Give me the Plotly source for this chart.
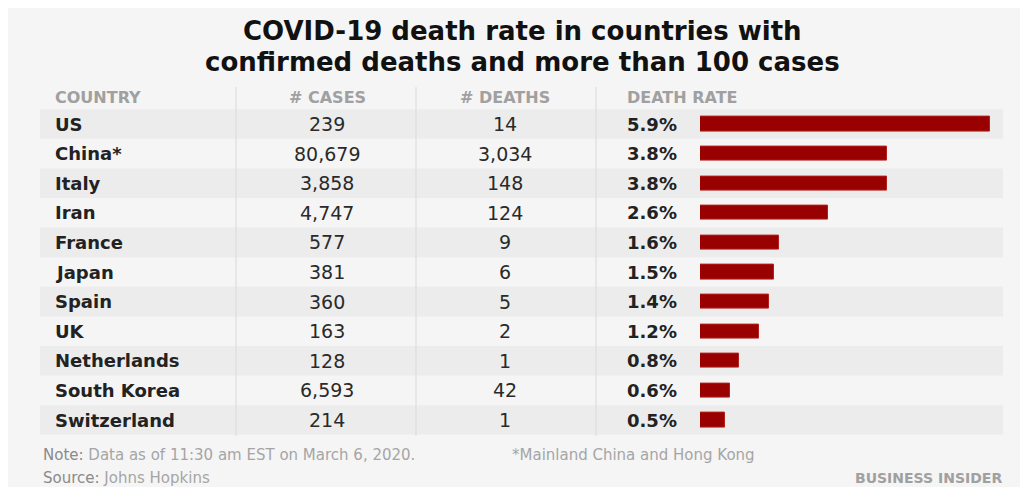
import plotly.graph_objects as go

countries = ["US", "China*", "Italy", "Iran", "France", "Japan", "Spain", "UK",
             "Netherlands", "South Korea", "Switzerland"]
cases = [239, 80679, 3858, 4747, 577, 381, 360, 163, 128, 6593, 214]
deaths = [14, 3034, 148, 124, 9, 6, 5, 2, 1, 42, 1]
death_rate = [5.9, 3.8, 3.8, 2.6, 1.6, 1.5, 1.4, 1.2, 0.8, 0.6, 0.5]
headers = ["COUNTRY", "# CASES", "# DEATHS", "DEATH RATE"]

# the page body has an 8px margin; figure spans page pixels 8..1020 x 8..487
OFF = 8
W, H = 1012, 479
def X(px): return (px - OFF) / W
def Y(py): return 1 - (py - OFF) / H

FONT = "DejaVu Sans"
BAR = "#990000"

fig = go.Figure()
fig.add_trace(go.Bar(
    y=countries, x=death_rate, orientation="h", width=0.48,
    marker=dict(color=BAR, line=dict(color="#b3201f", width=1)),
    hoverinfo="skip", showlegend=False,
))

shapes = []
# panel background
shapes.append(dict(type="rect", xref="paper", yref="paper",
                   x0=0, x1=1, y0=0, y1=1,
                   fillcolor="#f5f5f5", line_width=0, layer="below"))
# row stripes
for i, c in enumerate(countries):
    if i % 2 == 0:
        shapes.append(dict(type="rect", xref="paper", yref="y",
                           x0=X(40), x1=X(1003), y0=i - 0.5, y1=i + 0.5,
                           fillcolor="#ececec", line_width=0, layer="below"))
# column separators
for sx in [236, 416, 596]:
    shapes.append(dict(type="line", xref="paper", yref="paper",
                       x0=X(sx), x1=X(sx), y0=Y(436), y1=Y(87),
                       line=dict(color="#d9d9d9", width=1), layer="below"))

ann = []
# title
ann.append(dict(text="<b>COVID-19 death rate in countries with</b>", x=X(522), y=Y(31),
                xref="paper", yref="paper", showarrow=False, xanchor="center", yanchor="middle",
                font=dict(family=FONT, size=26, color="#111111")))
ann.append(dict(text="<b>confirmed deaths and more than 100 cases</b>", x=X(522), y=Y(62),
                xref="paper", yref="paper", showarrow=False, xanchor="center", yanchor="middle",
                font=dict(family=FONT, size=26, color="#111111")))
# headers
hx = [(53, "left"), (327, "center"), (505, "center"), (625, "left")]
for (px, anc), h in zip(hx, headers):
    ann.append(dict(text="<b>" + h + "</b>", x=X(px), y=Y(97), xref="paper", yref="paper",
                    showarrow=False, xanchor=anc, yanchor="middle",
                    font=dict(family=FONT, size=16, color="#a0a0a0")))
# rows
for i, c in enumerate(countries):
    ann.append(dict(text="<b>" + c + "</b>", x=X(53), y=c, xref="paper", yref="y",
                    showarrow=False, xanchor="left", yanchor="middle",
                    font=dict(family=FONT, size=18, color="#222222")))
    ann.append(dict(text=f"{cases[i]:,}", x=X(327), y=c, xref="paper", yref="y",
                    showarrow=False, xanchor="center", yanchor="middle",
                    font=dict(family=FONT, size=19, color="#2a2a2a")))
    ann.append(dict(text=f"{deaths[i]:,}", x=X(505), y=c, xref="paper", yref="y",
                    showarrow=False, xanchor="center", yanchor="middle",
                    font=dict(family=FONT, size=19, color="#2a2a2a")))
    ann.append(dict(text=f"<b>{death_rate[i]:.1f}%</b>", x=X(625), y=c, xref="paper", yref="y",
                    showarrow=False, xanchor="left", yanchor="middle",
                    font=dict(family=FONT, size=18, color="#222222")))
# footer
ann.append(dict(text="<span style='color:#8a8a8a'>Note:</span> Data as of 11:30 am EST on March 6, 2020.",
                x=X(41), y=Y(455), xref="paper", yref="paper", showarrow=False,
                xanchor="left", yanchor="middle", font=dict(family=FONT, size=15, color="#a5a5a5")))
ann.append(dict(text="*Mainland China and Hong Kong",
                x=X(510), y=Y(455), xref="paper", yref="paper", showarrow=False,
                xanchor="left", yanchor="middle", font=dict(family=FONT, size=15, color="#a5a5a5")))
ann.append(dict(text="<span style='color:#8a8a8a'>Source:</span> Johns Hopkins",
                x=X(41), y=Y(478), xref="paper", yref="paper", showarrow=False,
                xanchor="left", yanchor="middle", font=dict(family=FONT, size=15, color="#a5a5a5")))
ann.append(dict(text="<b>BUSINESS INSIDER</b>",
                x=X(1004), y=Y(478), xref="paper", yref="paper", showarrow=False,
                xanchor="right", yanchor="middle", font=dict(family=FONT, size=14, color="#a0a0a0")))

fig.update_layout(
    width=W, height=H,
    margin=dict(l=0, r=0, t=0, b=0),
    paper_bgcolor="white", plot_bgcolor="rgba(0,0,0,0)",
    xaxis=dict(domain=[X(700), X(700 + 49.2 * 6.2)], range=[0, 6.2], visible=False, fixedrange=True),
    yaxis=dict(domain=[Y(434.8), Y(79.6)], type="category", categoryorder="array",
               categoryarray=countries, range=[10.5, -1.5], visible=False, fixedrange=True),
    shapes=shapes, annotations=ann, bargap=0,
)
fig.write_html("out.html")
